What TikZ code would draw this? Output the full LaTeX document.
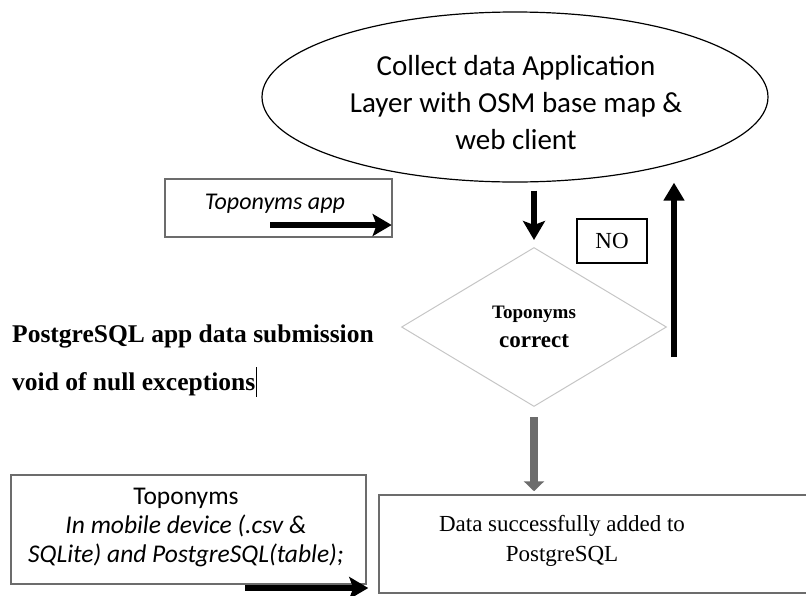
\documentclass[tikz,border=0pt]{standalone}
\usepackage{fontspec}
\setmainfont{Liberation Serif}
\setsansfont{Carlito}
\usetikzlibrary{arrows.meta,positioning,shapes.geometric}

\tikzset{box/.style={draw=gray!85!black, line width=1.3pt, rectangle, inner sep=0pt}}
\tikzset{fat/.style={line width=6pt, -{Stealth[length=19pt,width=22pt,inset=4pt]}}}
\tikzset{greyfat/.style={line width=8pt, gray!85!black, -{Triangle[length=10pt,width=20pt]}}}

\begin{document}
\begin{tikzpicture}[x=1pt,y=-1pt,main/.style={align=center, inner sep=0pt}]
    \clip (0,0) rectangle (806,595);
    \useasboundingbox (0,0) rectangle (806,595);

    \node[draw, ellipse, line width=1.2pt, minimum width=506pt, minimum height=170pt] (collect) at (515,97) {};
    \node[main, font=\sffamily\fontsize{29}{37}\selectfont] (collecttxt) at (516,103)
          {Collect data Application\\Layer with OSM base map \&\\web client};

    \node[box, minimum width=227pt, minimum height=58pt] (app) at (278.5,208) {};
    \node[main, font=\sffamily\itshape\fontsize{24}{28}\selectfont] (apptxt) at (275,204) {Toponyms app};

    \node[draw=gray!45, line width=1pt, diamond, minimum width=265pt, minimum height=159pt, main,
          font=\bfseries\fontsize{23}{29}\selectfont] (check) at (534,327)
          {{\fontsize{19}{22}\selectfont Toponyms}\\correct};

    \node[draw, line width=1.2pt, minimum width=70pt, minimum height=44pt, main,
          font=\fontsize{23}{26}\selectfont] (no) at (612,241) {NO};

    \node[main, align=left, anchor=west, font=\bfseries\fontsize{25.5}{48}\selectfont] (rule) at (12,360)
          {PostgreSQL app data submission\\void of null exceptions};
    \draw[line width=0.9pt] (256,367) -- (256,397);

    \node[box, minimum width=355pt, minimum height=109pt] (store) at (188.5,529.5) {};
    \node[main, font=\sffamily\fontsize{25.5}{29}\selectfont] (storetxt) at (186,527)
          {Toponyms\\\itshape In mobile device (.csv \&\\\itshape SQLite) and PostgreSQL(table);};

    \node[box, line width=1.5pt, minimum width=431pt, minimum height=98pt] (done) at (594.5,544) {};
    \node[main, font=\fontsize{23}{30}\selectfont] (donetxt) at (562,541)
          {Data successfully added to\\PostgreSQL};

    % connectors
    \coordinate (appin) at (270,225);
    \coordinate (storeout) at (245,588);
    \coordinate (back) at (674,357);

    \draw[fat] (appin) -- ([xshift=-1pt,yshift=-17pt]app.east);
    \draw[fat] ([yshift=-8pt]check.north |- collect.south) -- ([yshift=7pt]check.north);
    \draw[fat, -{Triangle[length=18pt,width=20pt]}] (back) -- (back |- collect.south);
    \draw[greyfat] ([yshift=-10pt]check.south) -- ([yshift=3pt]check.south |- done.north);
    \draw[fat] (storeout) -- ([xshift=-10pt]done.west |- storeout);
\end{tikzpicture}
\end{document}
